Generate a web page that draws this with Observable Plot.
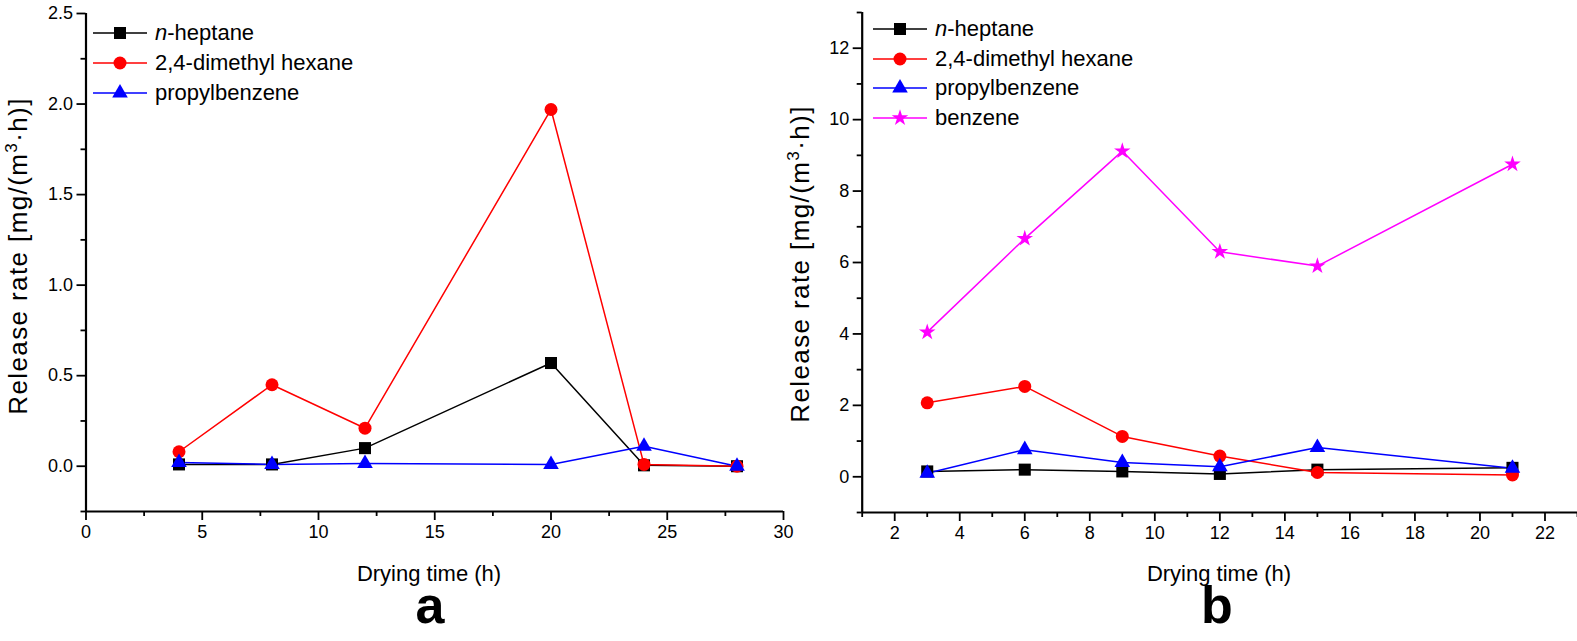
<!DOCTYPE html>
<html>
<head>
<meta charset="utf-8">
<script src="https://cdn.jsdelivr.net/npm/d3@7"></script>
<script src="https://cdn.jsdelivr.net/npm/@observablehq/plot@0.6"></script>
<style>
  html, body { margin: 0; padding: 0; background: #fff; }
  #root { position: relative; width: 1577px; height: 641px; overflow: hidden; font-family: "Liberation Sans", Arial, sans-serif; color: #000; }
  .panel { position: absolute; top: 0; }
  .ytitle { position: absolute; font-size: 26px; letter-spacing: 1.4px; white-space: nowrap; transform: translate(-50%, -50%) rotate(-90deg); line-height: 1; }
  .xtitle { position: absolute; font-size: 22px; white-space: nowrap; transform: translate(-50%, -50%); line-height: 1; }
  .letter { position: absolute; font-size: 52px; font-weight: bold; white-space: nowrap; transform: translate(-50%, 0); line-height: 0.6; }
  .legend { position: absolute; font-size: 22px; }
  .legend .row { position: absolute; left: 0; display: flex; align-items: center; height: 30px; white-space: nowrap; transform: translateY(-50%); }
  .legend svg { display: block; margin-right: 8px; }
</style>
</head>
<body>
<div id="root"></div>
<script>
// ---------- Data ----------
const seriesNamesA = ["n-heptane", "2,4-dimethyl hexane", "propylbenzene"];
const seriesNamesB = ["n-heptane", "2,4-dimethyl hexane", "propylbenzene", "benzene"];

// Panel a
const timeA = [4, 8, 12, 20, 24, 28];
const heptaneA = [0.01, 0.01, 0.10, 0.57, 0.005, 0.0];
const dimethylhexaneA = [0.08, 0.45, 0.21, 1.97, 0.01, 0.0];
const propylbenzeneA = [0.02, 0.01, 0.015, 0.01, 0.11, 0.0];

// Panel b
const timeB = [3, 6, 9, 12, 15, 21];
const heptaneB = [0.15, 0.20, 0.15, 0.08, 0.20, 0.25];
const dimethylhexaneB = [2.07, 2.53, 1.13, 0.58, 0.12, 0.05];
const propylbenzeneB = [0.10, 0.76, 0.40, 0.28, 0.82, 0.24];
const benzeneB = [4.05, 6.67, 9.12, 6.30, 5.90, 8.75];

// Axis ticks
const xTicksA = [0, 5, 10, 15, 20, 25, 30];
const xMinorA = [2.5, 7.5, 12.5, 17.5, 22.5, 27.5];
const yTicksA = [0, 0.5, 1.0, 1.5, 2.0, 2.5];
const yMinorA = [-0.25, 0.25, 0.75, 1.25, 1.75, 2.25];
const xTicksB = [2, 4, 6, 8, 10, 12, 14, 16, 18, 20, 22];
const xMinorB = [1, 3, 5, 7, 9, 11, 13, 15, 17, 19, 21, 23];
const yTicksB = [0, 2, 4, 6, 8, 10, 12];
const yMinorB = [-1, 1, 3, 5, 7, 9, 11, 13];

// Styles per series
const colors = { "n-heptane": "#000000", "2,4-dimethyl hexane": "#ff0000", "propylbenzene": "#0000ff", "benzene": "#ff00ff" };
const symbols = { "n-heptane": "square", "2,4-dimethyl hexane": "circle", "propylbenzene": "triangle", "benzene": "star" };
const radii = { "n-heptane": 6.8, "2,4-dimethyl hexane": 6.5, "propylbenzene": 5.8, "benzene": 5.2 };

function rows(times, names, valueArrays) {
  return names.flatMap((name, i) => times.map((t, j) => ({ series: name, time: t, value: valueArrays[i][j] })));
}
const dataA = rows(timeA, seriesNamesA, [heptaneA, dimethylhexaneA, propylbenzeneA]);
const dataB = rows(timeB, seriesNamesB, [heptaneB, dimethylhexaneB, propylbenzeneB, benzeneB]);

function seriesMarks(data, names) {
  const marks = [];
  for (const name of names) {
    const d = data.filter(r => r.series === name);
    marks.push(Plot.line(d, { x: "time", y: "value", stroke: colors[name], strokeWidth: 1.5 }));
  }
  for (const name of names) {
    const d = data.filter(r => r.series === name);
    marks.push(Plot.dot(d, { x: "time", y: "value", fill: colors[name], stroke: "none", symbol: symbols[name], r: radii[name] }));
  }
  return marks;
}

function panel({ width, marginLeft, marginRight, marginTop, marginBottom, xDomain, yDomain, xTicks, xMinor, yTicks, yMinor, yFormat, data, names }) {
  return Plot.plot({
    width, height: 641, marginLeft, marginRight, marginTop, marginBottom,
    x: { domain: xDomain },
    y: { domain: yDomain },
    style: { fontFamily: "'Liberation Sans', Arial, sans-serif", fontSize: "18px", color: "#000", background: "transparent", overflow: "visible" },
    marks: [
      Plot.axisX({ ticks: xTicks, tickSize: 9, tickPadding: 5, strokeWidth: 1.8, fontSize: 18, tickFormat: d => String(d), label: null }),
      Plot.axisX({ ticks: xMinor, tickSize: 5, strokeWidth: 1.8, tickFormat: () => "", label: null }),
      Plot.axisY({ ticks: yTicks, tickSize: 9, tickPadding: 4, strokeWidth: 1.8, fontSize: 18, tickFormat: yFormat, label: null }),
      Plot.axisY({ ticks: yMinor, tickSize: 5, strokeWidth: 1.8, tickFormat: () => "", label: null }),
      Plot.ruleX([xDomain[0]], { stroke: "#000", strokeWidth: 2.2 }),
      Plot.ruleY([yDomain[0]], { stroke: "#000", strokeWidth: 2.2 }),
      ...seriesMarks(data, names)
    ]
  });
}

const root = document.getElementById("root");

const chartA = panel({
  width: 790, marginLeft: 85.5, marginRight: 7, marginTop: 13, marginBottom: 130,
  xDomain: [0, 30], yDomain: [-0.25, 2.5],
  xTicks: xTicksA, xMinor: xMinorA, yTicks: yTicksA, yMinor: yMinorA,
  yFormat: d => d.toFixed(1), data: dataA, names: seriesNamesA
});
const wrapA = document.createElement("div");
wrapA.className = "panel"; wrapA.style.left = "0px";
wrapA.appendChild(chartA);
root.appendChild(wrapA);

const chartB = panel({
  width: 787, marginLeft: 71.7, marginRight: 0, marginTop: 12, marginBottom: 129,
  xDomain: [1, 23], yDomain: [-1, 13],
  xTicks: xTicksB, xMinor: xMinorB, yTicks: yTicksB, yMinor: yMinorB,
  yFormat: d => String(d), data: dataB, names: seriesNamesB
});
const wrapB = document.createElement("div");
wrapB.className = "panel"; wrapB.style.left = "790px";
wrapB.appendChild(chartB);
root.appendChild(wrapB);

// ---------- Titles ----------
function addDiv(cls, html, left, top) {
  const d = document.createElement("div");
  d.className = cls; d.innerHTML = html;
  d.style.left = left + "px"; d.style.top = top + "px";
  root.appendChild(d);
  return d;
}
const yTitle = "Release rate [mg/(m<sup style='font-size:17px;vertical-align:10px;line-height:0'>3</sup>·h)]";
addDiv("ytitle", yTitle, 18, 256);
addDiv("ytitle", yTitle, 800, 264);
addDiv("xtitle", "Drying time (h)", 429, 574);
addDiv("xtitle", "Drying time (h)", 1219, 574);
addDiv("letter", "a", 430, 590);
addDiv("letter", "b", 1217, 590);

// ---------- Legends ----------
function legend(names, left, top, spacing) {
  const lg = document.createElement("div");
  lg.className = "legend";
  lg.style.left = left + "px"; lg.style.top = top + "px";
  names.forEach((name, i) => {
    const row = document.createElement("div");
    row.className = "row";
    row.style.top = (i * spacing) + "px";
    const svg = d3.create("svg").attr("width", 54).attr("height", 20);
    svg.append("line").attr("x1", 0).attr("x2", 54).attr("y1", 10).attr("y2", 10)
      .attr("stroke", colors[name]).attr("stroke-width", 1.5);
    const symMap = { square: d3.symbolSquare, circle: d3.symbolCircle, triangle: d3.symbolTriangle, star: d3.symbolStar };
    svg.append("path").attr("transform", "translate(27,10)")
      .attr("d", d3.symbol(symMap[symbols[name]], Math.PI * radii[name] * radii[name])())
      .attr("fill", colors[name]);
    row.appendChild(svg.node());
    const label = document.createElement("span");
    label.innerHTML = name === "n-heptane" ? "<i>n</i>-heptane" : name;
    row.appendChild(label);
    lg.appendChild(row);
  });
  root.appendChild(lg);
}
legend(seriesNamesA, 93, 33, 30);
legend(seriesNamesB, 873, 29, 29.7);
</script>
</body>
</html>
